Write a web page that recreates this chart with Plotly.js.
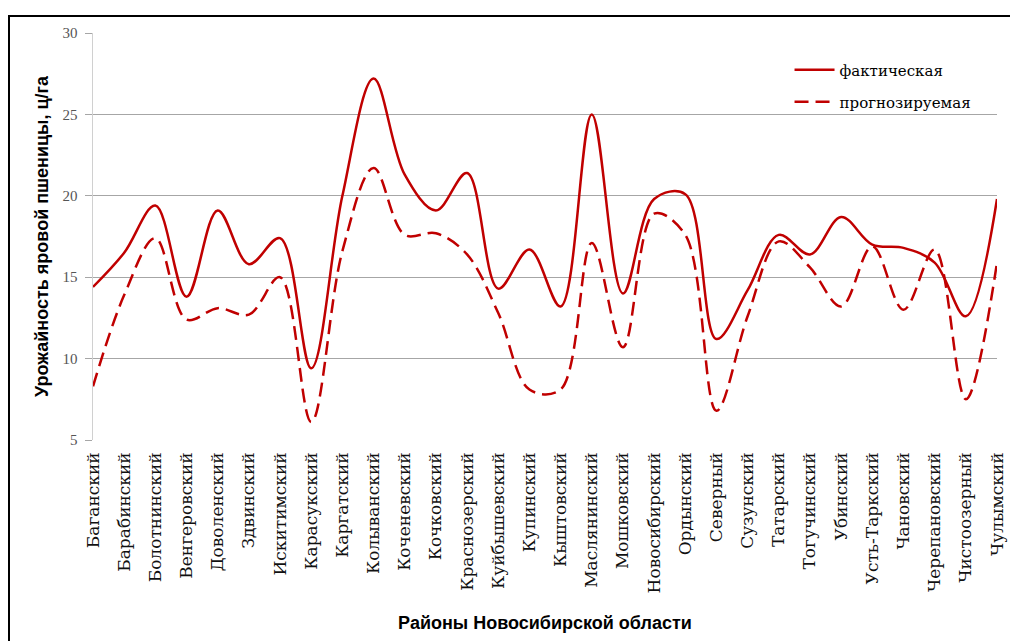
<!DOCTYPE html>
<html>
<head>
<meta charset="utf-8">
<script src="https://cdn.plot.ly/plotly-3.0.1.min.js"></script>
<style>
  html, body { margin: 0; padding: 0; background: #fff; width: 1010px; height: 641px; overflow: hidden; }
  #frame { position: absolute; left: 8px; top: 15px; width: 1010px; height: 640px; border: 2px solid #000; box-sizing: border-box; }
  #chart { position: absolute; left: 0; top: 0; width: 1010px; height: 641px; }
</style>
</head>
<body>
<div id="frame"></div>
<div id="chart"></div>
<script>
const districts = [
  "Баганский","Барабинский","Болотнинский","Венгеровский","Доволенский",
  "Здвинский","Искитимский","Карасукский","Каргатский","Колыванский",
  "Коченевский","Кочковский","Краснозерский","Куйбышевский","Купинский",
  "Кыштовский","Маслянинский","Мошковский","Новосибирский","Ордынский",
  "Северный","Сузунский","Татарский","Тогучинский","Убинский",
  "Усть-Таркский","Чановский","Черепановский","Чистоозерный","Чулымский"
];
const actual = [
  14.4, 16.5, 19.4, 13.8, 19.1,
  15.8, 17.4, 9.4, 20.0, 27.2,
  21.3, 19.1, 21.4, 14.3, 16.7,
  13.2, 25.0, 14.0, 19.8, 20.1,
  11.2, 14.2, 17.6, 16.4, 18.7,
  17.0, 16.8, 15.9, 12.6, 19.8
];
const forecast = [
  8.3, 13.9, 17.4, 12.4, 13.1,
  12.7, 15.0, 6.1, 16.6, 21.7,
  17.6, 17.7, 16.4, 12.8, 8.1,
  8.1, 17.1, 10.7, 18.9, 17.6,
  6.8, 12.6, 17.2, 15.6, 13.2,
  16.9, 13.0, 16.7, 7.5, 15.9
];
const yTicks = [5, 10, 15, 20, 25, 30];
const seriesNames = ["фактическая", "прогнозируемая"];

const red = "#C00000";
const legendFont = { family: "DejaVu Serif, serif", size: 15, color: "#000" };
const traces = [
  { x: districts, y: actual, name: seriesNames[0], type: "scatter", mode: "lines", legend: "legend",
    line: { color: red, width: 2.5, shape: "spline", smoothing: 1 } },
  { x: districts, y: forecast, name: seriesNames[1], type: "scatter", mode: "lines", legend: "legend2",
    line: { color: red, width: 2.5, shape: "spline", smoothing: 1, dash: "14px,7px" } }
];

const layout = {
  width: 1010, height: 641,
  paper_bgcolor: "rgba(0,0,0,0)", plot_bgcolor: "rgba(0,0,0,0)",
  margin: { l: 93, r: 13, t: 33, b: 201 },
  showlegend: true,
  legend: { x: 0.7705, y: 0.909, xanchor: "left", yanchor: "middle", bgcolor: "rgba(0,0,0,0)",
    font: legendFont, itemwidth: 40 },
  legend2: { x: 0.7705, y: 0.8305, xanchor: "left", yanchor: "middle", bgcolor: "rgba(0,0,0,0)",
    font: legendFont, itemwidth: 40 },
  xaxis: {
    type: "category", range: [0, districts.length - 1],
    showgrid: false, showline: false, zeroline: false,
    ticks: "", tickangle: -90, ticklabelstandoff: 8,
    tickfont: { family: "DejaVu Serif, serif", size: 17, color: "#111" },
    title: { text: "<b>Районы Новосибирской области</b>", standoff: 24,
      font: { family: "Liberation Sans, Arial, sans-serif", size: 18, color: "#000" } }
  },
  yaxis: {
    range: [5, 30], tickvals: yTicks, ticktext: yTicks.map(String),
    showgrid: true, gridcolor: "#A6A6A6", gridwidth: 1,
    showline: true, linecolor: "#D0D0D0", linewidth: 1.5,
    zeroline: false, ticks: "outside", ticklen: 7, tickcolor: "#A6A6A6",
    ticklabelstandoff: 4,
    tickfont: { family: "Liberation Serif, Times New Roman, serif", size: 15, color: "#555" },
    title: { text: "<b>Урожайность яровой пшеницы, ц/га</b>", standoff: 9,
      font: { family: "Liberation Sans, Arial, sans-serif", size: 18, color: "#000" } }
  }
};

Plotly.newPlot("chart", traces, layout, { displayModeBar: false, staticPlot: true });
</script>
</body>
</html>
